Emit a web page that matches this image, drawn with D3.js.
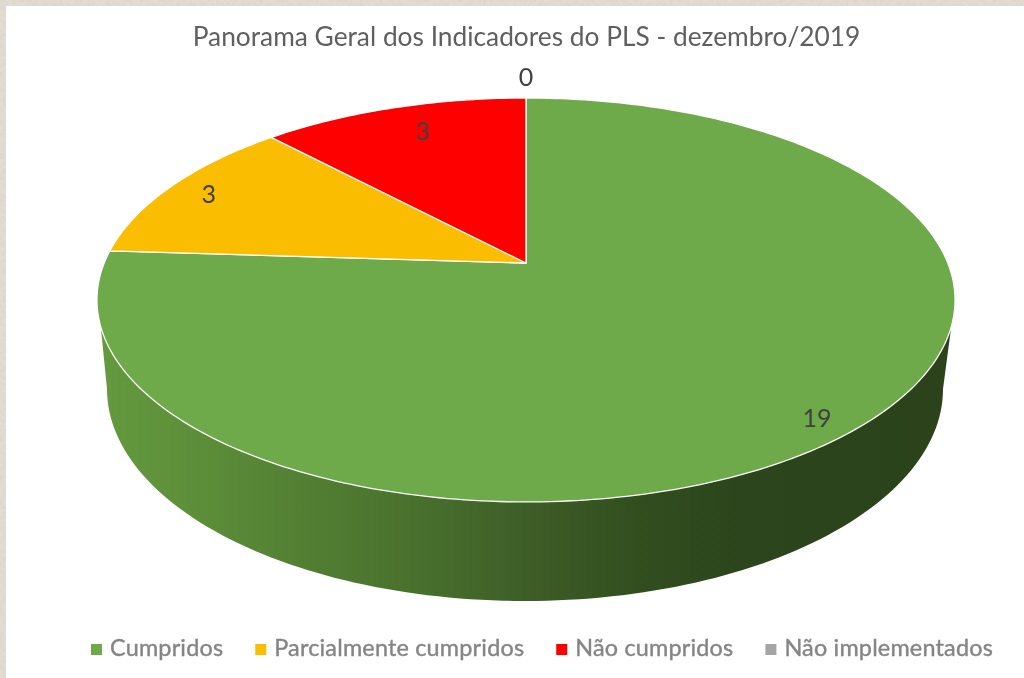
<!DOCTYPE html>
<html>
<head>
<meta charset="utf-8">
<style>
  html, body { margin: 0; padding: 0; background: #fff; }
  svg { display: block; }
  text { font-family: Lato, "Noto Sans", sans-serif; }
</style>
<script src="https://cdn.jsdelivr.net/npm/d3@7"></script>
</head>
<body>
<svg id="chart" width="1024" height="678"></svg>
<script>
var categories = ["Cumpridos", "Parcialmente cumpridos", "Não cumpridos", "Não implementados"];
var values = [19, 3, 3, 0];
var colors = ["#6eaa4a", "#fbbd00", "#ff0000", "#a5a5a5"];
var titleText = "Panorama Geral dos Indicadores do PLS - dezembro/2019";

var svg = d3.select("#chart"),
  width = 1024,
  height = 678,
  frame = 6;

// the pie lid is a circle seen in perspective, not a plain ellipse
var lid = {cx: 526, cy: 263, k: -0.183, a: 195.2, b: 421.8};
var base = {cx: 525, cy: 389, rx: 418, ry: 212};
var sideJoin = 18 * Math.PI / 180;

function project(angle, r) {
  var u = Math.sin(angle) * r,
    v = -Math.cos(angle) * r,
    w = 1 + lid.k * v;
  return [lid.cx + lid.b * u / w, lid.cy + lid.a * v / w];
}

function baseRim(angle) {
  return [base.cx + base.rx * Math.sin(angle), base.cy - base.ry * Math.cos(angle)];
}

var defs = svg.append("defs");

var paper = defs.append("filter").attr("id", "paper")
  .attr("x", 0).attr("y", 0).attr("width", "100%").attr("height", "100%");
paper.append("feTurbulence").attr("type", "fractalNoise")
  .attr("baseFrequency", 0.3).attr("numOctaves", 3).attr("seed", 4);
paper.append("feColorMatrix").attr("type", "matrix")
  .attr("values", "0 0 0 0 0.72  0 0 0 0 0.68  0 0 0 0 0.60  0 0 0 -2.4 1.6");

defs.append("filter").attr("id", "soft")
  .append("feGaussianBlur").attr("stdDeviation", 0.55);

var sideGrad = defs.append("linearGradient").attr("id", "side")
  .attr("gradientUnits", "userSpaceOnUse")
  .attr("x1", 97).attr("x2", 955).attr("y1", 0).attr("y2", 0);
[[0, "#659a3f"], [0.12, "#5c8e39"], [0.25, "#527e33"], [0.36, "#4a722e"],
 [0.49, "#3f5f28"], [0.63, "#324e1f"], [0.75, "#2c451c"], [1, "#2b421b"]].forEach(function(s) {
  sideGrad.append("stop").attr("offset", s[0]).attr("stop-color", s[1]);
});

// background paper and white chart area
svg.append("rect").attr("width", width).attr("height", height).attr("fill", "#e2dcd2");
svg.append("rect").attr("width", width).attr("height", height).attr("filter", "url(#paper)");
svg.append("rect").attr("x", frame).attr("y", frame)
  .attr("width", width - frame).attr("height", height - frame).attr("fill", "#fff");

var pie = d3.pie().sort(null).value(function(d) { return d; });
var arcs = pie(values);

var line = d3.line();

function sliceOutline(d) {
  var n = Math.max(2, Math.ceil((d.endAngle - d.startAngle) * 60));
  var pts = d3.range(n + 1).map(function(i) {
    return project(d.startAngle + (d.endAngle - d.startAngle) * i / n, 1);
  });
  return line([project(0, 0)].concat(pts)) + "Z";
}

// side wall, only the front of the green slice shows
var frontN = 120;
var frontPts = [project(Math.PI / 2 + sideJoin, 1)]
  .concat(d3.range(frontN + 1).map(function(i) {
    return baseRim(Math.PI * 0.5 + Math.PI * i / frontN);
  }))
  .concat([project(Math.PI * 1.5 - sideJoin, 1)]);

svg.append("path")
  .attr("d", line(frontPts) + "Z")
  .attr("fill", "url(#side)");

svg.append("g").attr("class", "slices")
  .selectAll("path")
  .data(arcs.filter(function(d) { return d.value > 0; }))
  .enter().append("path")
  .attr("d", sliceOutline)
  .attr("fill", function(d) { return colors[d.index]; })
  .attr("stroke", "#fff")
  .attr("stroke-width", 1.3)
  .attr("stroke-linejoin", "round");

// Excel style best fit, each label has its own spot
var labelSpot = [
  {r: 0.88, dx: 3, dy: 13},
  {r: 0.88, dx: -3, dy: 0},
  {r: 0.8, dx: 6, dy: -4},
  {r: 1, dx: 0, dy: -21}
];

svg.append("g").attr("class", "labels")
  .attr("filter", "url(#soft)")
  .selectAll("text")
  .data(arcs)
  .enter().append("text")
  .attr("transform", function(d) {
    var s = labelSpot[d.index],
      p = project((d.startAngle + d.endAngle) / 2, s.r);
    return "translate(" + (p[0] + s.dx) + "," + (p[1] + s.dy) + ")";
  })
  .attr("text-anchor", "middle")
  .attr("dy", "0.35em")
  .attr("font-size", 25)
  .attr("fill", "#404040")
  .text(function(d) { return d.value; });

svg.append("text")
  .attr("x", 526.5)
  .attr("y", 46)
  .attr("text-anchor", "middle")
  .attr("font-size", 26.3)
  .attr("fill", "#5f5f5f")
  .attr("filter", "url(#soft)")
  .text(titleText);

// legend flows left to right from the measured text
var legend = svg.append("g").attr("class", "legend");
var legendX = 91;
categories.forEach(function(name, i) {
  legend.append("rect")
    .attr("x", legendX).attr("y", 644)
    .attr("width", 11).attr("height", 11)
    .attr("fill", colors[i]);
  var t = legend.append("text")
    .attr("x", legendX + 19)
    .attr("y", 656)
    .attr("font-size", 23.4)
    .attr("letter-spacing", 0.2)
    .attr("fill", "#858585")
    .attr("stroke", "#858585")
    .attr("stroke-width", 0.4)
    .attr("filter", "url(#soft)")
    .text(name);
  legendX += 19 + t.node().getComputedTextLength() + 32;
});
</script>
</body>
</html>
